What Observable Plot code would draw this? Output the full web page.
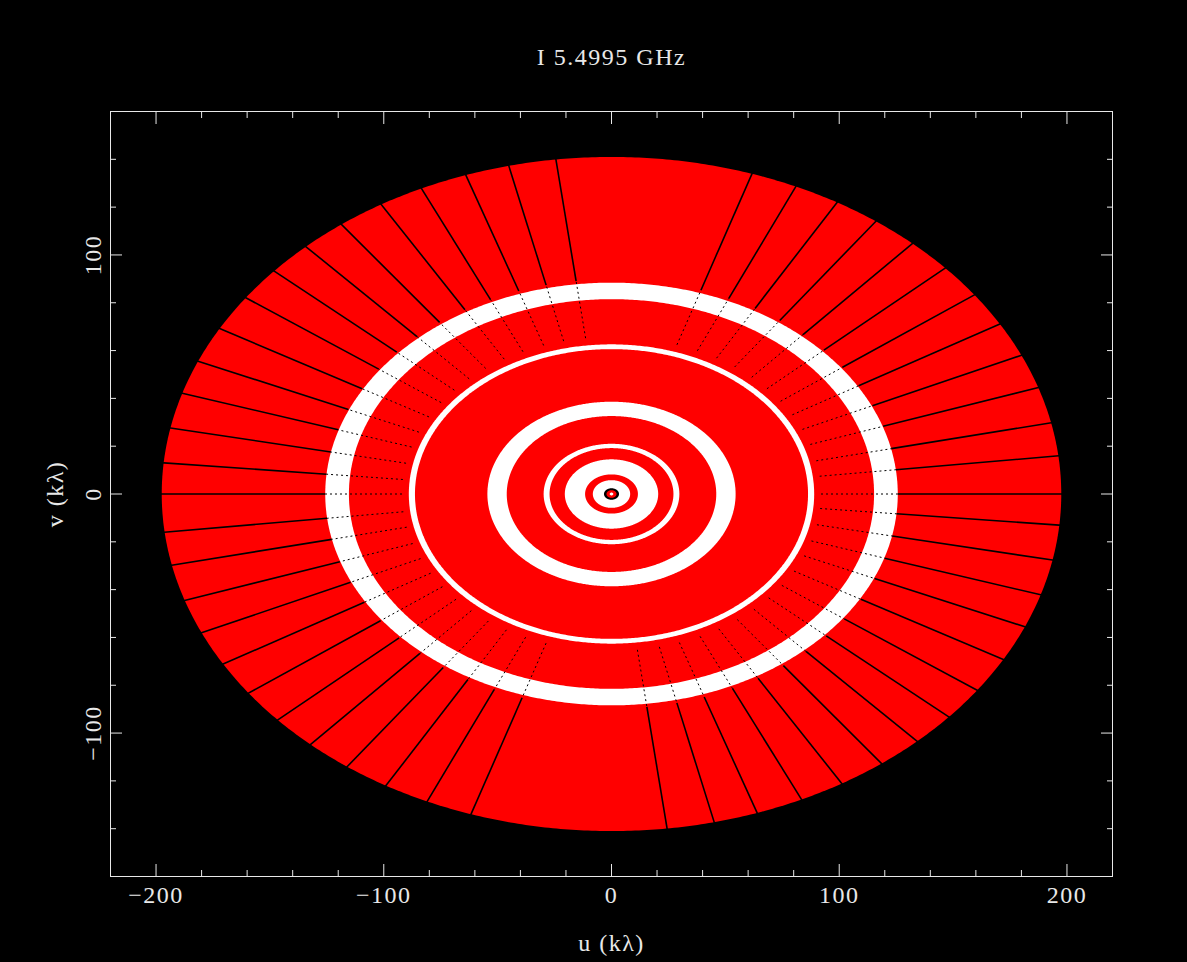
<!DOCTYPE html>
<html>
<head>
<meta charset="utf-8">
<script src="https://cdn.jsdelivr.net/npm/d3@7"></script>
<script src="https://cdn.jsdelivr.net/npm/@observablehq/plot@0.6"></script>
<style>
  html, body { margin: 0; padding: 0; background: #000; }
  #chart svg { display: block; }
  #chart text { letter-spacing: 1.5px; }
</style>
</head>
<body>
<div id="chart"></div>
<script>
// ---- text ----
const title = "I 5.4995 GHz";
const xLabel = "u (kλ)";
const yLabel = "v (kλ)";

// ---- ticks ----
const xMajorTicks = [-200, -100, 0, 100, 200];
const xMinorTicks = [-180, -160, -140, -120, -80, -60, -40, -20, 20, 40, 60, 80, 120, 140, 160, 180];
const yMajorTicks = [-100, 0, 100];
const yMinorTicks = [-140, -120, -80, -60, -40, -20, 20, 40, 60, 80, 120, 140];

// ---- uv coverage bands (ellipses, painted outer to inner) ----
// semi-axis along u (kλ), semi-axis along v (kλ), fill colour
const bandU = [197.5, 125.7, 115.3, 89.0, 86.3, 54.5, 46.0, 29.8, 27.2, 20.5, 11.6, 8.2, 3.3, 2.2, 0.8];
const bandV = [141.0, 88.4, 81.5, 62.6, 60.6, 38.6, 32.6, 21.0, 19.2, 14.5, 8.2, 5.8, 2.4, 1.6, 0.6];
const bandColor = ["#ff0000", "#ffffff", "#ff0000", "#ffffff", "#ff0000", "#ffffff", "#ff0000",
                   "#ffffff", "#ff0000", "#ffffff", "#ff0000", "#ffffff", "#000000", "#ff0000", "#ffffff"];

// ---- time gaps: radial lines, parametric angle (deg) on the outer ellipse, upper half ----
const gapAngles = [0, 6.5, 12.2, 18.4, 24.3, 30.3, 36.2, 42.1, 48.0, 54.0, 59.9, 65.8, 71.8,
                   97.1, 103.2, 108.9, 115.0, 120.8, 126.9, 132.8, 138.6, 144.4, 150.6,
                   156.8, 162.6, 168.7, 174.7, 180];
const gapOuterR = 199;   // u-scale radius where gap lines end
const gapSolidR = 125.7; // solid part starts here
const gapInnerR = 92;    // dotted part starts here

// ---- build geometry from the data ----
const ratio = bandV[0] / bandU[0];
const bandPts = bandU.map((a, i) => {
  const b = bandV[i];
  const pts = [];
  for (let k = 0; k <= 720; k++) {
    const t = (k / 720) * 2 * Math.PI;
    pts.push({u: a * Math.cos(t), v: b * Math.sin(t)});
  }
  return pts;
});

// Hermitian symmetry: (u,v) and (-u,-v)
const allAngles = gapAngles.concat(gapAngles.filter(a => a > 0 && a < 180).map(a => a + 180));
const seg = (r1, r2) => allAngles.map(deg => {
  const t = deg * Math.PI / 180;
  return {
    x1: r1 * Math.cos(t), y1: r1 * ratio * Math.sin(t),
    x2: r2 * Math.cos(t), y2: r2 * ratio * Math.sin(t)
  };
});
const solidSegs = seg(gapSolidR, gapOuterR);
const dotSegs = seg(gapInnerR, gapSolidR);

const fmt = d => d < 0 ? "\u2212" + Math.abs(d) : String(d);
const ink = "#e8e8e8";

const chart = Plot.plot({
  width: 1187,
  height: 962,
  marginLeft: 110,
  marginRight: 75,
  marginTop: 111,
  marginBottom: 86,
  style: {background: "#000", color: ink, fontFamily: "'Liberation Serif', 'DejaVu Serif', serif", fontSize: "24px"},
  x: {domain: [-220, 220], axis: null},
  y: {domain: [-160, 160], axis: null},
  marks: [
    ...bandPts.map((pts, i) => Plot.line(pts, {x: "u", y: "v", fill: bandColor[i], stroke: "none", curve: "linear-closed"})),
    Plot.link(dotSegs, {x1: "x1", y1: "y1", x2: "x2", y2: "y2", stroke: "#000", strokeWidth: 1, strokeDasharray: "2,3"}),
    Plot.link(solidSegs, {x1: "x1", y1: "y1", x2: "x2", y2: "y2", stroke: "#000", strokeWidth: 1.6}),
    Plot.frame({stroke: ink, strokeWidth: 1}),
    // ticks pointing inward on all four sides
    Plot.axisX(xMajorTicks, {anchor: "bottom", tickSize: -12, fill: "none", stroke: ink, label: null}),
    Plot.axisX(xMinorTicks, {anchor: "bottom", tickSize: -6, fill: "none", stroke: ink, label: null}),
    Plot.axisX(xMajorTicks, {anchor: "top", tickSize: -12, fill: "none", stroke: ink, label: null}),
    Plot.axisX(xMinorTicks, {anchor: "top", tickSize: -6, fill: "none", stroke: ink, label: null}),
    Plot.axisY(yMajorTicks, {anchor: "left", tickSize: -12, fill: "none", stroke: ink, label: null}),
    Plot.axisY(yMinorTicks, {anchor: "left", tickSize: -6, fill: "none", stroke: ink, label: null}),
    Plot.axisY(yMajorTicks, {anchor: "right", tickSize: -12, fill: "none", stroke: ink, label: null}),
    Plot.axisY(yMinorTicks, {anchor: "right", tickSize: -6, fill: "none", stroke: ink, label: null}),
    // tick labels
    Plot.text(xMajorTicks, {x: d => d, y: -160, dy: 9, text: fmt, lineAnchor: "top", textAnchor: "middle", fill: ink}),
    Plot.text(yMajorTicks, {x: -220, y: d => d, dx: -10, text: fmt, rotate: -90, lineAnchor: "bottom", textAnchor: "middle", fill: ink}),
    // titles
    Plot.text([title], {frameAnchor: "top", dy: -54, text: d => d, lineAnchor: "middle", fill: ink}),
    Plot.text([xLabel], {frameAnchor: "bottom", dy: 67, text: d => d, lineAnchor: "middle", fill: ink}),
    Plot.text([yLabel], {frameAnchor: "left", dx: -55, text: d => d, rotate: -90, lineAnchor: "middle", textAnchor: "middle", fill: ink})
  ]
});
document.getElementById("chart").appendChild(chart);
</script>
</body>
</html>
